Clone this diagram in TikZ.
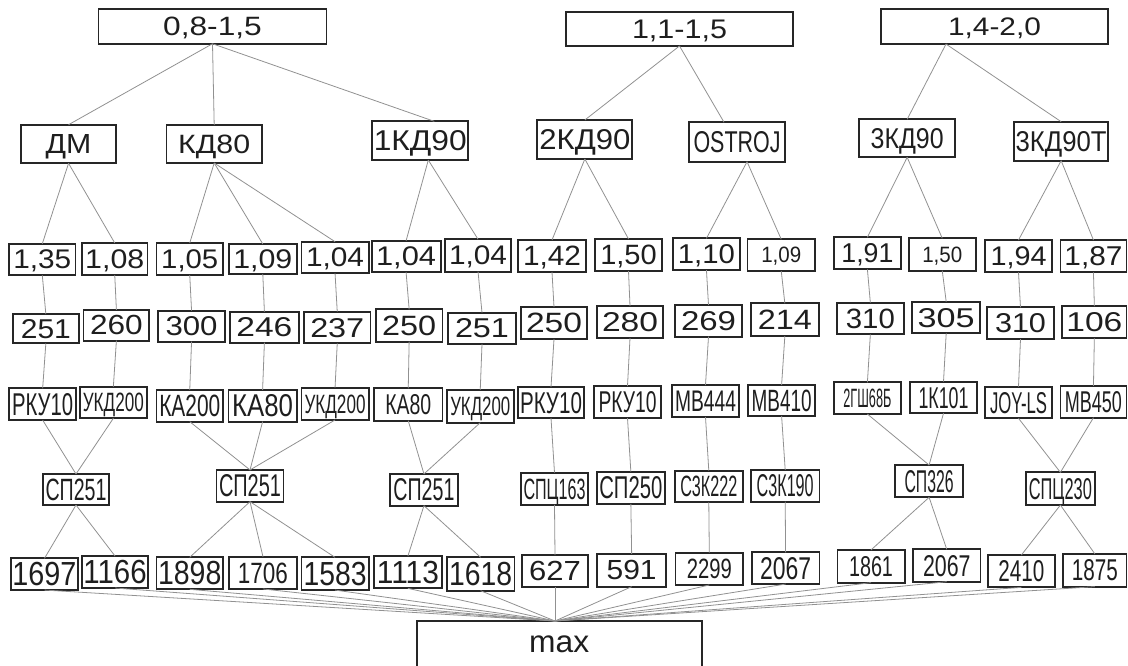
\documentclass[tikz,border=0pt]{standalone}
\usepackage{fontspec}
\setmainfont{Liberation Sans}
\usepackage{graphicx}
\definecolor{lnc}{RGB}{145,145,145}
\definecolor{bdc}{RGB}{38,38,38}
\definecolor{txc}{RGB}{30,30,30}
\newcommand\Bx[8]{\node[bx,minimum width=#4pt,minimum height=#5pt] (#1) at (#2,-#3) {\raisebox{0pt}[#7pt][0pt]{\resizebox{#6pt}{#7pt}{#8}}};}
\begin{document}
\begin{tikzpicture}[x=1pt,y=1pt,
 bx/.style={draw=bdc,line width=1.8pt,inner sep=0pt,outer sep=0pt,text=txc,fill=white},
 cn/.style={draw=lnc,line width=0.8pt}]
\useasboundingbox (0,0) rectangle (1128,-665);
% top
\Bx{T1}{212.5}{26.5}{228}{34.5}{98.7}{18.5}{0,8-1,5}
\Bx{T2}{679.5}{28.8}{227}{34.3}{95}{18.5}{1,1-1,5}
\Bx{T3}{994.5}{26.7}{227.6}{34.7}{93}{17.7}{1,4-2,0}
% row 2
\Bx{dm}{68.55}{144}{95.3}{38.6}{45.7}{19}{ДМ}
\Bx{kd}{214.2}{144}{95.4}{38}{72}{18.5}{КД80}
\Bx{ka}{420.3}{140.7}{96}{38.7}{93}{20}{1КД90}
\Bx{kb}{584.85}{139.5}{95}{39}{91}{20}{2КД90}
\Bx{os}{737.05}{142}{95.7}{39.4}{87}{21}{OSTROJ}
\Bx{kc}{907.15}{138.3}{95.7}{38}{73}{20}{3КД90}
\Bx{kt}{1061.15}{141.2}{94.3}{39}{91}{20}{3КД90T}
% row 3
\Bx{a1}{42.3}{259.5}{66.5}{31.5}{58}{18.8}{1,35}
\Bx{a2}{114.75}{259}{65.5}{32}{59}{18.8}{1,08}
\Bx{a3}{189.75}{259}{66.5}{32}{57}{18.8}{1,05}
\Bx{a4}{262.8}{259}{68}{30}{59}{18.8}{1,09}
\Bx{a5}{335.05}{257.5}{67.3}{31.6}{58}{18.8}{1,04}
\Bx{a6}{406.1}{256.5}{69}{31.6}{60}{18.8}{1,04}
\Bx{a7}{478.05}{255.5}{65.5}{32.4}{58}{18.8}{1,04}
\Bx{a8}{552}{256}{68}{32}{58}{19.5}{1,42}
\Bx{a9}{628.5}{255}{67}{32}{56.5}{19.5}{1,50}
\Bx{a10}{706.45}{254.2}{67.7}{31.7}{57}{19}{1,10}
\Bx{a11}{781.25}{255.2}{67.5}{31.7}{40}{15.5}{1,09}
\Bx{a12}{867.4}{253.3}{67.2}{32}{52}{19}{1,91}
\Bx{a13}{942.25}{254.5}{67.3}{32.4}{40}{15.5}{1,50}
\Bx{a14}{1018.5}{256.2}{67.2}{32.3}{56}{18.8}{1,94}
\Bx{a15}{1093.45}{256.2}{66}{32.3}{58}{19}{1,87}
% row 4
\Bx{b1}{45.85}{328.7}{66.5}{29.3}{50}{19}{251}
\Bx{b2}{116.4}{325.3}{65.8}{30.7}{52.7}{19.3}{260}
\Bx{b3}{191.55}{326.2}{66.5}{31}{52}{19}{300}
\Bx{b4}{264.4}{327.2}{68.4}{31}{56}{19}{246}
\Bx{b5}{337.25}{327.5}{66.5}{31.6}{54}{19}{237}
\Bx{b6}{409.15}{325.5}{66.5}{32.4}{54}{19.5}{250}
\Bx{b7}{482}{328.3}{68.4}{31.3}{54}{19}{251}
\Bx{b8}{554}{323}{66}{32}{56}{19.5}{250}
\Bx{b9}{630}{322}{66}{32}{56}{19}{280}
\Bx{b10}{708.5}{320.8}{67}{31.7}{55}{19}{269}
\Bx{b11}{784.85}{319.7}{67.7}{32.7}{54}{19.5}{214}
\Bx{b12}{870.35}{318.5}{67.3}{31.6}{49}{19.5}{310}
\Bx{b13}{946.2}{317.5}{68}{31.6}{57}{19}{305}
\Bx{b14}{1020.5}{323.2}{67.6}{31.7}{51}{19}{310}
\Bx{b15}{1094.35}{322.2}{64.3}{32.3}{56}{19}{106}
% row 5
\Bx{c1}{42.65}{404.2}{66.7}{31.7}{61}{22}{РКУ10}
\Bx{c2}{113.35}{402.5}{66.7}{31.6}{61}{18.5}{УКД200}
\Bx{c3}{189.75}{405.8}{66.5}{31.7}{61}{21.5}{КА200}
\Bx{c4}{262.6}{405.8}{68.4}{31.7}{61}{22}{КА80}
\Bx{c5}{335.05}{403.8}{67.3}{32.3}{61}{18.5}{УКД200}
\Bx{c6}{408.25}{404.5}{68.3}{32.4}{46}{20}{КА80}
\Bx{c7}{480.25}{406.3}{66.9}{32.7}{60}{18.5}{УКД200}
\Bx{c8}{551}{402.5}{66}{31}{62}{21}{РКУ10}
\Bx{c9}{627.5}{402}{67}{32}{58}{21}{РКУ10}
\Bx{c10}{705.5}{401}{67}{32}{61}{20.5}{MB444}
\Bx{c11}{781.6}{400.5}{66.8}{31}{60}{21.5}{MB410}
\Bx{c12}{867.4}{398.2}{67.2}{31.7}{48}{18.5}{2ГШ68Б}
\Bx{c13}{943.5}{397.5}{67}{31.6}{50}{21}{1К101}
\Bx{c14}{1018.5}{402.5}{67.2}{31.6}{57}{21}{JOY-LS}
\Bx{c15}{1093.45}{401.8}{66}{31.7}{57}{21}{MB450}
% row 6
\Bx{d1}{76}{489.5}{66.6}{31}{61}{21.5}{СП251}
\Bx{d2}{250}{485.8}{67}{31.7}{62}{22}{СП251}
\Bx{d3}{423.95}{489.8}{67.3}{31.7}{61}{22}{СП251}
\Bx{d4}{554.5}{488.8}{67.6}{32.3}{62}{20.5}{СПЦ163}
\Bx{d5}{630.85}{487.8}{68.3}{32.3}{63}{22}{СП250}
\Bx{d6}{708.8}{486.5}{68}{31.6}{57}{20.5}{С3К222}
\Bx{d7}{785.2}{485.8}{68.4}{31.7}{57}{22}{С3К190}
\Bx{d8}{929.1}{481.2}{68.4}{32.3}{49}{22}{СП326}
\Bx{d9}{1060.4}{488.7}{68.4}{32.7}{63}{21}{СПЦ230}
% row 7
\Bx{e1}{44.5}{574.2}{67.6}{31.7}{64}{23.3}{1697}
\Bx{e2}{115}{572}{66.6}{32}{63.3}{23.3}{1166}
\Bx{e3}{189.75}{573.3}{66.5}{32}{63.3}{23.3}{1898}
\Bx{e4}{262.95}{572.8}{67.7}{32.3}{50}{20.5}{1706}
\Bx{e5}{335.05}{573.7}{67.3}{32.7}{63}{23.3}{1583}
\Bx{e6}{407.9}{572.2}{67.6}{32.3}{62}{22.3}{1113}
\Bx{e7}{480.6}{574}{67.6}{33.4}{63}{23.3}{1618}
\Bx{e8}{555}{571.2}{66.6}{32.3}{51.7}{19.3}{627}
\Bx{e9}{631.65}{570.3}{68.7}{32.7}{50}{19.3}{591}
\Bx{e10}{709.3}{568.8}{67.6}{32.3}{45}{19.5}{2299}
\Bx{e11}{785.6}{568.2}{67.6}{31.7}{51}{22}{2067}
\Bx{e12}{871}{566.3}{67.2}{32.7}{44}{20}{1861}
\Bx{e13}{946.75}{565.5}{67.5}{32.4}{47.5}{21}{2067}
\Bx{e14}{1021.35}{571.2}{67.3}{32.3}{46}{21}{2410}
\Bx{e15}{1094.9}{570.3}{63.2}{32.7}{46}{21}{1875}
% max
\Bx{mx}{559.2}{644.5}{285}{47}{60}{16.7}{max}
\coordinate (m0) at (e8.south |- mx.north);
% connectors
\draw[cn] (T1.south) -- (dm.north);
\draw[cn] (T1.south) -- (kd.north);
\draw[cn] (T1.south) -- ([xshift=14pt]ka.north);
\draw[cn] (T2.south) -- (kb.north);
\draw[cn] (T2.south) -- ([xshift=-13pt]os.north);
\draw[cn] ([xshift=-48.5pt]T3.south) -- (kc.north);
\draw[cn] ([xshift=-48.5pt]T3.south) -- (kt.north);
\foreach \c in {a1,a2} \draw[cn] (dm.south) -- (\c.north);
\foreach \c in {a3,a4,a5} \draw[cn] (kd.south) -- (\c.north);
\foreach \c in {a6,a7} \draw[cn] ([xshift=8pt]ka.south) -- (\c.north);
\foreach \c in {a8,a9} \draw[cn] (kb.south) -- (\c.north);
\foreach \c in {a10,a11} \draw[cn] ([xshift=10pt]os.south) -- (\c.north);
\foreach \c in {a12,a13} \draw[cn] (kc.south) -- (\c.north);
\foreach \c in {a14,a15} \draw[cn] (kt.south) -- (\c.north);
\foreach \i in {1,...,15}{
  \draw[cn] (a\i.south) -- (b\i.north);
  \draw[cn] (b\i.south) -- (c\i.north);
  \draw[cn] (e\i.south) -- (m0);
}
\foreach \p/\c in {c1/d1,c2/d1,c3/d2,c4/d2,c5/d2,c6/d3,c7/d3,c8/d4,c9/d5,c10/d6,c11/d7,c12/d8,c13/d8,c14/d9,c15/d9}
  \draw[cn] (\p.south) -- (\c.north);
\foreach \p/\c in {d1/e1,d1/e2,d2/e3,d2/e4,d2/e5,d3/e6,d3/e7,d4/e8,d5/e9,d6/e10,d7/e11,d8/e12,d8/e13,d9/e14,d9/e15}
  \draw[cn] (\p.south) -- (\c.north);
\end{tikzpicture}
\end{document}
